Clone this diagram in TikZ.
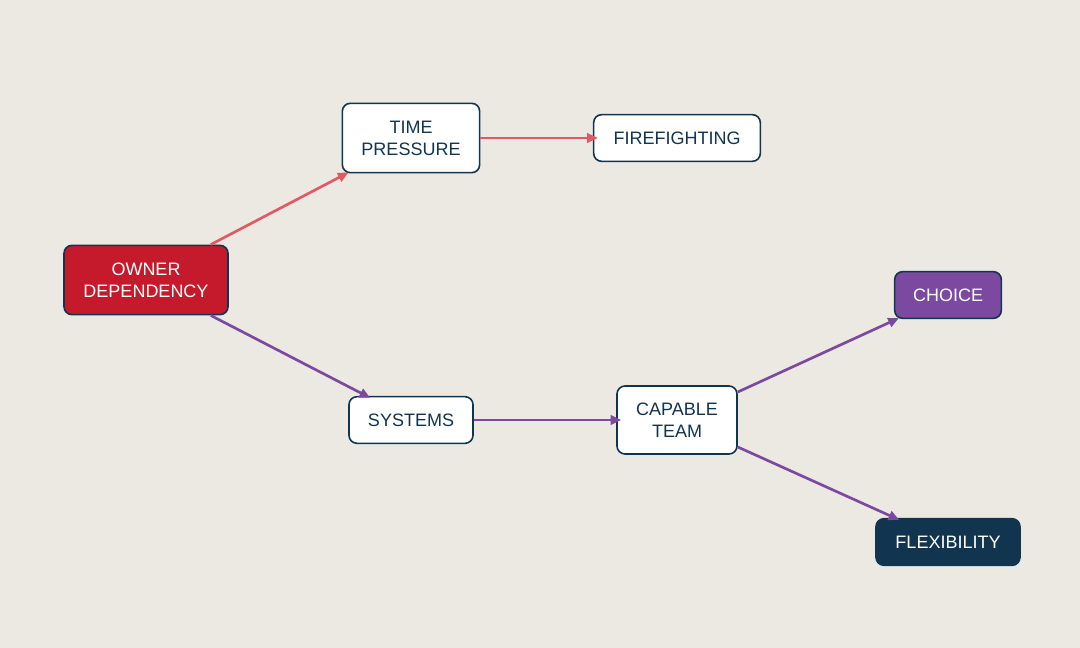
\documentclass[tikz,border=0pt]{standalone}
\usepackage{fontspec}
\setmainfont{Liberation Sans}
\usetikzlibrary{calc,arrows.meta}
\definecolor{bg}{HTML}{EBE9E1}
\definecolor{navy}{HTML}{12354F}
\definecolor{ored}{HTML}{C41A2B}
\definecolor{purp}{HTML}{7B4AA0}
\definecolor{lred}{HTML}{E05A66}
\begin{document}
\begin{tikzpicture}[x=0.75pt,y=-0.75pt,
 box/.style={draw=navy,line width=1.2pt,rounded corners=6pt,fill=white,text=navy,align=center,font=\fontsize{13.5}{16.5}\selectfont,inner sep=0pt},
 ar/.style={line width=2pt,-{Triangle[length=8pt,width=7pt]}}]
\fill[bg] (0,0) rectangle (1080,648);
\useasboundingbox (0,0) rectangle (1080,648);
\node[box,fill=ored,text=white,minimum width=123pt,minimum height=52pt] (o) at (146,280) {OWNER\\DEPENDENCY};
\node[box,minimum width=103pt,minimum height=52pt] (t) at (411,138) {TIME\\PRESSURE};
\node[box,minimum width=125pt,minimum height=35pt] (f) at (677,138) {FIREFIGHTING};
\node[box,minimum width=93pt,minimum height=35pt] (s) at (411,420) {SYSTEMS};
\node[box,minimum width=90pt,minimum height=51pt] (c) at (677,420) {CAPABLE\\TEAM};
\node[box,fill=purp,text=white,minimum width=80pt,minimum height=35pt] (ch) at (948,295) {CHOICE};
\node[box,fill=navy,text=white,minimum width=108pt,minimum height=35pt] (fl) at (948,542) {FLEXIBILITY};
\draw[ar,lred] ($(o.north east)+(-18,0)$) -- ($(t.south west)+(7,-1)$);
\draw[ar,lred] (t.east) -- ($(f.west)+(5,0)$);
\draw[ar,purp] ($(o.south east)+(-18,0)$) -- ($(s.north west)+(22,2)$);
\draw[ar,purp] (s.east) -- ($(c.west)+(5,0)$);
\draw[ar,purp] ($(c.east)+(0,-28)$) -- ($(ch.south west)+(5,-1)$);
\draw[ar,purp] ($(c.east)+(0,27)$) -- ($(fl.north west)+(24,2)$);
\end{tikzpicture}
\end{document}
